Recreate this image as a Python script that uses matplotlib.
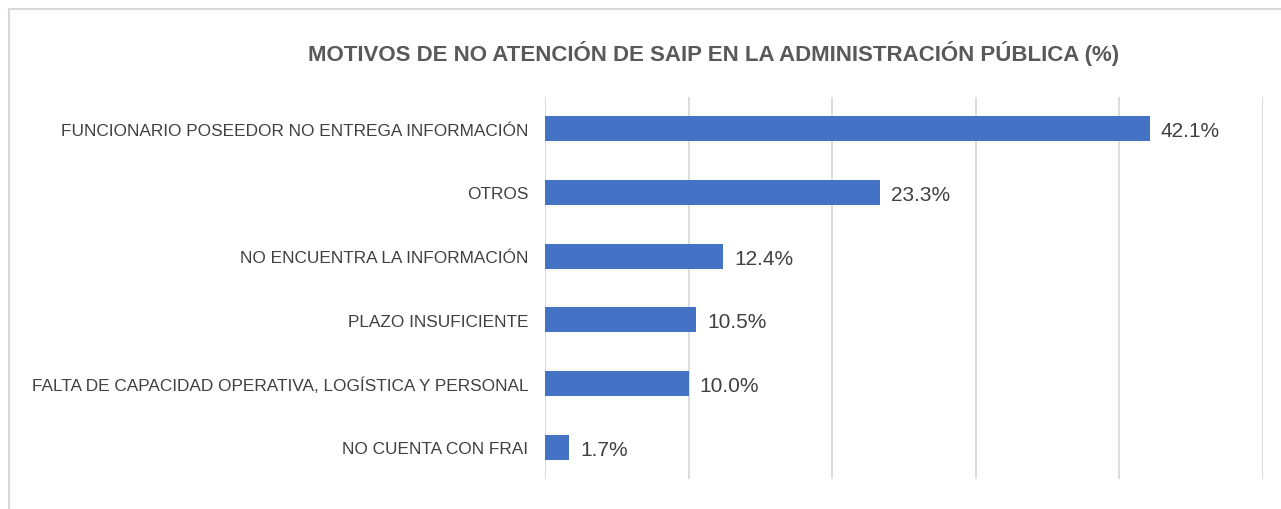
import matplotlib
matplotlib.use("Agg")
import matplotlib.pyplot as plt
from matplotlib.lines import Line2D

categories = [
    "FUNCIONARIO POSEEDOR NO ENTREGA INFORMACIÓN",
    "OTROS",
    "NO ENCUENTRA LA INFORMACIÓN",
    "PLAZO INSUFICIENTE",
    "FALTA DE CAPACIDAD OPERATIVA, LOGÍSTICA Y PERSONAL",
    "NO CUENTA CON FRAI",
]
values = [42.1, 23.3, 12.4, 10.5, 10.0, 1.7]
value_labels = ["42.1%", "23.3%", "12.4%", "10.5%", "10.0%", "1.7%"]
title = "MOTIVOS DE NO ATENCIÓN DE SAIP EN LA ADMINISTRACIÓN PÚBLICA (%)"

plt.rcParams['font.family'] = ['Liberation Sans', 'DejaVu Sans']

W, H = 1281, 510
fig = plt.figure(figsize=(W / 100, H / 100), dpi=100)
ax = fig.add_axes([545 / W, 1 - 480 / H, (1263 - 545) / W, (480 - 98) / H])

ypos = list(range(len(categories)))
ax.barh(ypos, values, height=0.39, color="#4472C4", zorder=3)
ax.set_ylim(len(categories) - 0.5, -0.5)
ax.set_xlim(0, 50)
ax.set_xticks([0, 10, 20, 30, 40, 50])
ax.grid(axis="x", color="#D9D9D9", linewidth=1.3, zorder=0)
ax.tick_params(axis="x", length=0, labelbottom=False)
ax.tick_params(axis="y", length=0, pad=12)
ax.set_yticks(ypos)
ax.set_yticklabels(categories, fontsize=12.4, color="#404040")
for s in ax.spines.values():
    s.set_visible(False)

for y, v, lab in zip(ypos, values, value_labels):
    ax.annotate(lab, (v, y), xytext=(8, -1.5), textcoords="offset points",
                va="center", ha="left", fontsize=15, color="#404040")

fig.text(714 / W, 1 - 53 / H, title, ha="center", va="center",
         fontsize=16, fontweight="bold", color="#595959")

# chart frame
fig.add_artist(Line2D([9 / W, 9 / W], [0, 1 - 10 / H], transform=fig.transFigure,
                      color="#D9D9D9", linewidth=1.5))
fig.add_artist(Line2D([9 / W, 1], [1 - 10 / H, 1 - 10 / H], transform=fig.transFigure,
                      color="#D9D9D9", linewidth=1.5))

fig.savefig("out.png", dpi=100, facecolor="white")
